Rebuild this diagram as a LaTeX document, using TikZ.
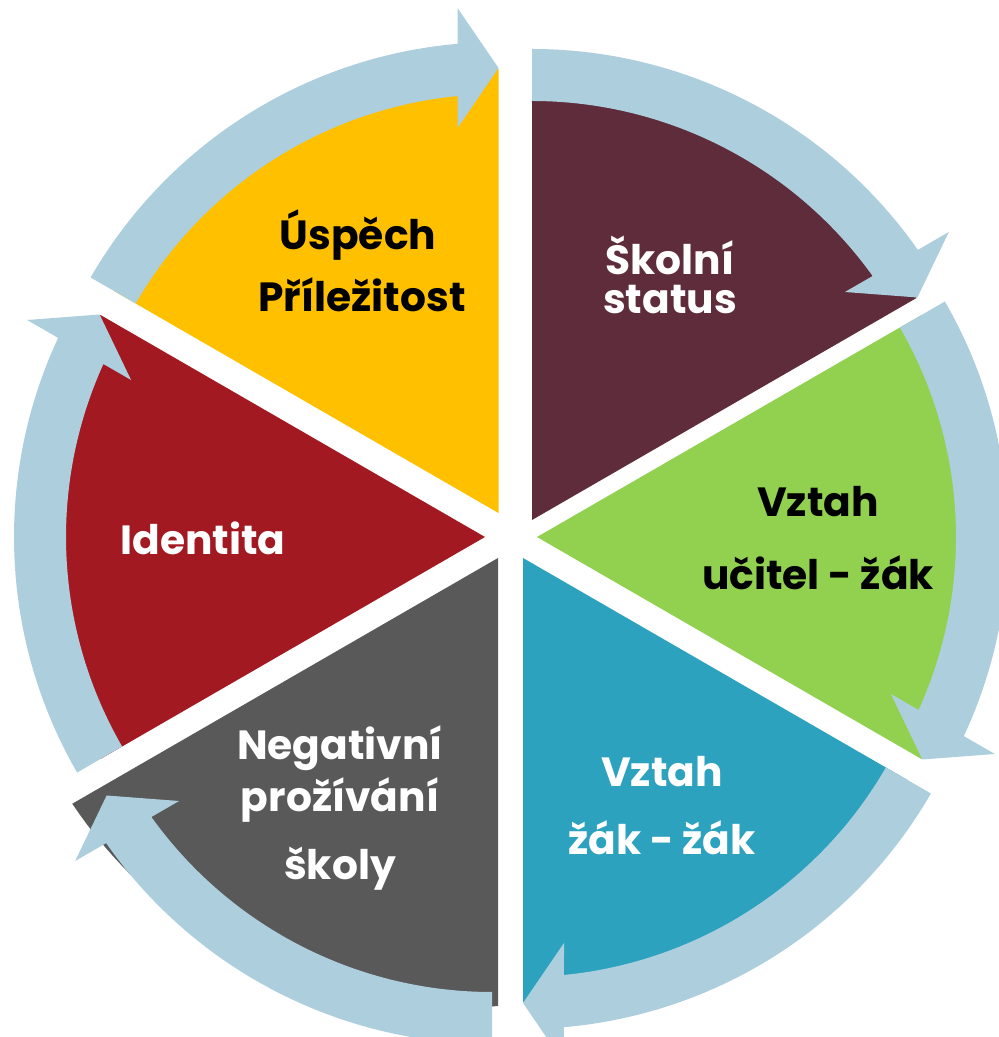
\documentclass[tikz,border=0pt]{standalone}
\usepackage{fontspec}
\setmainfont{Poppins}
\usetikzlibrary{calc}
\definecolor{cYellow}{HTML}{FFC000}
\definecolor{cMaroon}{HTML}{5E2C3A}
\definecolor{cGreen}{HTML}{92D050}
\definecolor{cBlue}{HTML}{2CA2BF}
\definecolor{cGray}{HTML}{595959}
\definecolor{cRed}{HTML}{A21921}
\definecolor{cBand}{HTML}{ADCEDC}
\newcommand{\cycarrow}[2]{%
  \pgfmathsetmacro\cycAs{#2+60}%
  \pgfmathsetmacro\cycAo{#2+asin(41/471)}%
  \pgfmathsetmacro\cycAi{#2+asin(41/419)}%
  \pgfmathsetmacro\cycAp{#2+90}%
  \fill[bandfill] ($(#1)+(\cycAs:471)$) arc[start angle=\cycAs, end angle=\cycAo, radius=471]
    -- ($(#1)+(#2:505)+(\cycAp:41)$)
    -- ($(#1)+(#2:445)$)
    -- ($(#1)+(#2:385)+(\cycAp:41)$)
    -- ($(#1)+(\cycAi:419)$)
    arc[start angle=\cycAi, end angle=\cycAs, radius=419] -- cycle;
}
\newcommand{\cycwedge}[3]{%
  \pgfmathsetmacro\cycWs{#2+60}%
  \fill[#3] (#1) -- ($(#1)+(#2:444)$) arc[start angle=#2, end angle=\cycWs, radius=444] -- cycle;
}
\begin{document}
\begin{tikzpicture}[x=0.25mm,y=0.25mm,
  bandfill/.style={fill=cBand},
  lbl/.style={anchor=base, inner sep=0pt, font=\bfseries\fontsize{29}{29}\selectfont}]
\useasboundingbox (0,0) rectangle (999,1037);
\clip (0,0) rectangle (999,1037);
% centres (x, 1037 - image y)
\coordinate (cy) at (498.5,524);
\coordinate (cm) at (532,517);
\coordinate (cg) at (537,500);
\coordinate (cb) at (523,479);
\coordinate (ck) at (492,464);
\coordinate (ka) at (498,479);
\coordinate (cr) at (485,500);
% wedges
\cycwedge{cy}{90}{cYellow}
\cycwedge{cm}{30}{cMaroon}
\cycwedge{cg}{-30}{cGreen}
\cycwedge{cb}{-90}{cBlue}
\cycwedge{cr}{150}{cRed}
\fill[cGray] (ka) -- plot[domain=208.8:270.8, samples=40]
  ({492+(479-46*(\x-208.8)/62)*cos(\x)}, {464+(479-46*(\x-208.8)/62)*sin(\x)}) -- cycle;
% arrows
\cycarrow{cy}{90}
\cycarrow{cm}{30}
\cycarrow{cg}{-30}
\cycarrow{cb}{-90}
\cycarrow{ck}{-150}
\cycarrow{cr}{150}
% labels
\node[lbl, text=black] (t1a) at (358,787) {Úspěch};
\node[lbl, text=black] (t1b) at (362,725) {Příležitost};
\node[lbl, text=white] (t2a) at (670,762) {Školní};
\node[lbl, text=white] (t2b) at (670,723) {status};
\node[lbl, text=black] (t3a) at (818,520) {Vztah};
\node[lbl, text=black] (t3b) at (818,447) {učitel - žák};
\node[lbl, text=white] (t4a) at (662,250) {Vztah};
\node[lbl, text=white] (t4b) at (662,182) {žák - žák};
\node[lbl, text=white] (t5a) at (340,277) {Negativní};
\node[lbl, text=white] (t5b) at (340,225) {prožívání};
\node[lbl, text=white] (t5c) at (340,157) {školy};
\node[lbl, text=white] (t6) at (203,482) {Identita};
\end{tikzpicture}
\end{document}
